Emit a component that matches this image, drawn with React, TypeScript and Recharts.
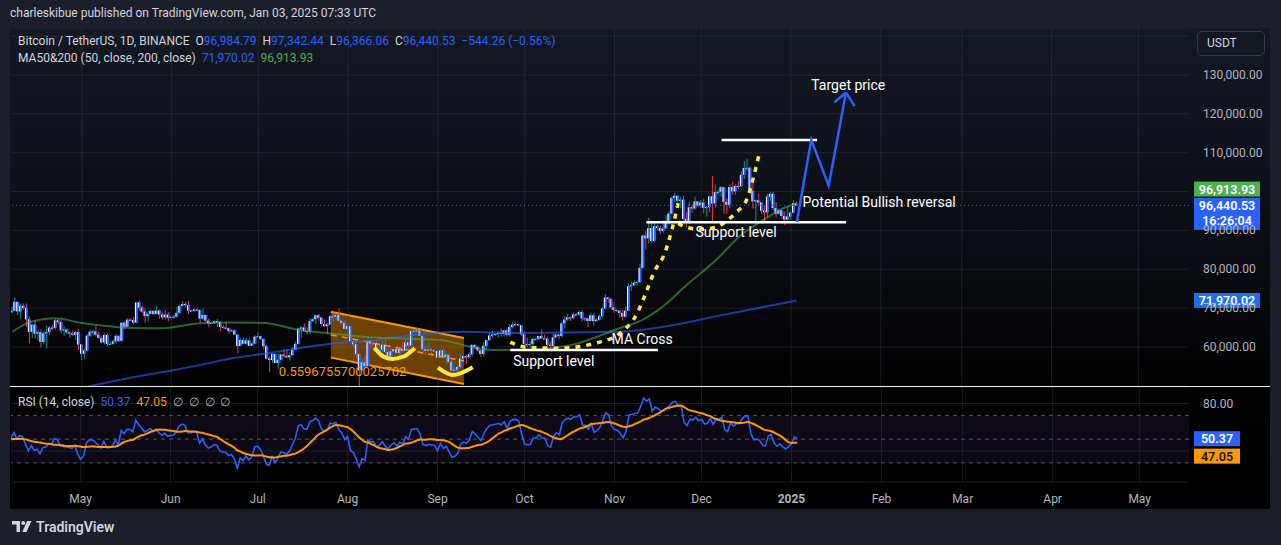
import React from 'react';
import {
  ComposedChart, Bar, Line, Area, XAxis, YAxis, CartesianGrid,
  ReferenceLine, ReferenceArea, ReferenceDot,
} from 'recharts';

const FONT = 'Roboto, "Noto Sans", sans-serif';
const GRID = 'rgba(54,58,69,0.45)';
const UP = '#2962ff';

// closes before the visible window (10 Mar - 6 Apr 2024), only used to warm up the RSI
const warmupCloses = [
  69.0, 72.1, 71.5, 73.1, 71.4, 69.5, 65.3, 68.4, 67.6, 61.9, 67.9, 65.5, 63.8, 64.0,
  67.2, 69.9, 70.0, 69.5, 70.8, 69.9, 69.6, 71.3, 69.7, 65.5, 66.0, 68.5, 67.8, 68.9,
];

// BTCUSDT daily, 7 Apr 2024 - 3 Jan 2025, thousands of USDT
const closes = [
  // Apr
  69.36, 71.62, 69.14, 70.59, 70.06, 67.12, 63.92, 65.74, 63.43, 63.81, 61.28, 63.51, 63.84, 64.99,
  64.93, 66.84, 66.41, 64.28, 64.5, 63.77, 63.46, 63.12, 63.84, 60.64,
  // May
  58.25, 59.12, 62.89, 63.89, 64.03, 63.16, 62.33, 61.19, 63.07, 60.79, 60.82, 61.45, 62.88, 61.55,
  66.25, 65.23, 67.04, 66.94, 66.28, 71.45, 70.14, 69.12, 67.93, 68.53, 69.29, 68.5, 69.39, 68.37,
  67.63, 68.35, 67.53,
  // Jun
  67.76, 67.82, 68.8, 70.57, 71.08, 70.79, 69.36, 69.31, 69.65, 69.51, 67.32, 68.24, 66.76, 66.01,
  66.19, 66.64, 66.49, 65.17, 64.96, 64.83, 64.1, 64.25, 63.18, 60.28, 61.8, 60.86, 61.67, 60.32,
  60.89, 62.68,
  // Jul
  62.77, 62.02, 60.2, 57.04, 56.64, 58.23, 55.86, 56.71, 58.05, 57.72, 57.34, 57.9, 59.23, 60.79,
  64.72, 65.04, 64.09, 63.99, 66.68, 67.15, 68.16, 67.57, 65.93, 65.37, 65.77, 67.9, 67.81, 68.25,
  66.78, 66.19, 64.62,
  // Aug
  65.35, 61.5, 60.7, 58.16, 54.02, 56.04, 55.03, 61.71, 60.88, 60.94, 58.71, 59.35, 60.6, 58.74,
  57.56, 58.87, 59.49, 58.44, 59.49, 59.01, 61.16, 60.38, 64.09, 64.16, 64.22, 62.83, 59.42, 59.03,
  59.38, 59.12, 58.97,
  // Sep
  57.3, 59.13, 57.49, 57.97, 56.16, 53.96, 54.16, 54.87, 57.05, 57.64, 57.34, 58.13, 60.57, 60.0,
  59.13, 58.21, 60.31, 61.76, 62.95, 63.2, 63.35, 63.58, 63.34, 64.26, 63.14, 65.18, 65.77, 65.86,
  65.6, 63.3,
  // Oct
  60.8, 60.63, 60.75, 62.08, 62.09, 62.82, 62.22, 62.13, 60.58, 60.27, 62.45, 63.2, 62.85, 66.08,
  67.06, 67.62, 67.42, 68.38, 68.36, 69.0, 67.37, 67.37, 66.68, 68.16, 66.64, 67.01, 67.93, 69.91,
  72.72, 72.34, 70.22,
  // Nov
  69.49, 69.37, 68.73, 67.8, 69.36, 75.64, 75.9, 76.55, 76.7, 80.37, 88.7, 87.96, 90.58, 87.25,
  91.07, 90.6, 89.84, 90.49, 92.34, 94.34, 98.38, 98.91, 97.67, 97.9, 93.01, 91.97, 95.95, 95.65,
  97.46, 96.41,
  // Dec
  97.19, 95.84, 96.0, 98.77, 96.96, 99.87, 99.92, 101.13, 97.36, 96.59, 101.17, 100.04, 101.42, 101.37,
  104.3, 106.06, 106.13, 100.2, 97.46, 97.76, 97.22, 95.1, 94.69, 98.68, 99.43, 95.79, 94.27, 95.16,
  93.71, 92.78, 93.58,
  // Jan
  94.59, 96.98, 96.44,
];

const highs = [
  70.3, 72.7, 71.7, 71.2, 71.2, 71.2, 67.9, 65.8, 66.9, 64.4, 64.5, 64.1, 65.4, 65.4,
  65.7, 67.2, 67.2, 67.1, 65.3, 64.8, 63.9, 64.3, 64.2, 64.7,
  60.8, 59.6, 63.3, 64.5, 64.6, 65.5, 64.0, 62.9, 63.4, 63.5, 61.4, 61.8, 63.4, 63.0,
  66.4, 66.7, 67.4, 67.4, 67.7, 71.5, 71.9, 70.6, 70.0, 69.2, 69.6, 69.5, 70.6, 69.6,
  68.9, 69.5, 69.0,
  68.0, 68.4, 70.3, 71.0, 71.8, 71.6, 71.9, 69.6, 69.9, 70.1, 69.6, 69.9, 68.4, 67.3,
  66.4, 66.9, 67.2, 66.5, 65.7, 66.5, 65.0, 64.5, 64.5, 63.4, 62.3, 62.4, 62.3, 62.2,
  61.2, 63.0,
  63.8, 62.9, 62.2, 60.5, 57.5, 58.5, 58.3, 58.2, 58.3, 59.4, 59.5, 58.5, 59.9, 61.4,
  64.9, 65.4, 66.1, 65.1, 67.4, 67.6, 68.4, 68.5, 67.8, 67.1, 66.1, 68.2, 69.4, 68.3,
  70.0, 66.9, 66.8,
  65.6, 65.0, 62.2, 61.1, 58.3, 57.0, 57.7, 62.7, 61.8, 61.5, 61.8, 60.7, 61.6, 61.8,
  59.8, 59.8, 59.6, 60.3, 59.6, 61.4, 61.8, 61.4, 64.9, 64.5, 65.0, 64.5, 63.2, 60.2,
  61.2, 59.8, 59.4,
  59.1, 59.4, 59.8, 58.5, 58.3, 57.0, 54.8, 55.3, 58.1, 58.0, 57.9, 58.6, 60.6, 60.6,
  60.4, 59.2, 61.3, 61.8, 63.8, 64.1, 63.6, 64.0, 64.8, 64.5, 64.8, 65.8, 66.5, 66.3,
  66.0, 65.6,
  64.1, 62.4, 61.5, 62.5, 62.4, 62.9, 64.5, 63.2, 62.5, 61.3, 63.4, 63.4, 63.3, 66.5,
  67.9, 68.4, 67.9, 68.9, 68.7, 69.4, 69.5, 67.8, 67.4, 68.8, 68.7, 67.4, 68.3, 70.2,
  73.6, 72.9, 72.7,
  71.6, 69.9, 69.4, 69.5, 70.5, 76.4, 76.9, 77.2, 76.9, 81.5, 89.0, 89.9, 93.3, 91.8,
  91.8, 91.5, 91.2, 92.6, 94.0, 94.9, 98.9, 99.6, 99.0, 98.7, 98.9, 94.7, 97.3, 96.6,
  98.7, 97.5,
  97.8, 98.2, 96.3, 99.0, 104.0, 101.9, 100.5, 101.4, 101.2, 98.3, 101.9, 102.5, 101.9, 102.7,
  105.2, 107.8, 108.4, 106.5, 102.8, 98.0, 99.5, 97.3, 96.4, 99.4, 99.9, 99.9, 97.3, 95.5,
  95.2, 94.9, 96.1,
  94.9, 97.8, 97.34,
];

const lows = [
  68.7, 69.2, 68.2, 67.5, 69.6, 65.1, 60.9, 62.2, 62.3, 61.7, 59.8, 60.8, 59.6, 63.1,
  64.3, 64.5, 65.8, 63.6, 62.8, 63.3, 62.4, 62.8, 61.8, 59.2,
  56.6, 56.9, 58.8, 62.6, 62.9, 62.7, 62.1, 60.9, 60.7, 60.2, 60.5, 60.6, 60.8, 61.2,
  61.4, 64.6, 65.1, 66.6, 65.9, 66.1, 69.2, 68.8, 66.3, 66.6, 68.5, 68.2, 68.3, 67.2,
  67.1, 67.1, 66.6,
  67.4, 67.3, 67.6, 68.6, 70.4, 70.2, 68.5, 69.2, 69.1, 69.2, 66.1, 66.9, 66.3, 65.1,
  65.9, 66.0, 65.1, 64.1, 64.7, 64.5, 63.4, 63.9, 63.2, 58.4, 60.3, 60.7, 60.6, 60.2,
  60.4, 60.7,
  62.5, 61.8, 59.4, 56.8, 53.5, 56.0, 55.8, 54.3, 56.3, 57.2, 57.1, 56.5, 57.7, 59.2,
  60.6, 62.4, 63.9, 63.2, 63.3, 66.4, 65.8, 66.6, 65.4, 65.1, 63.4, 65.7, 66.6, 67.0,
  66.5, 65.3, 64.5,
  62.3, 61.2, 59.8, 57.2, 49.0, 53.9, 54.6, 54.7, 59.6, 60.3, 58.4, 57.6, 58.5, 58.4,
  56.1, 57.2, 58.8, 58.4, 57.8, 58.6, 58.9, 59.8, 60.3, 63.6, 63.8, 62.8, 58.1, 57.9,
  58.8, 57.8, 58.8,
  57.2, 57.1, 57.4, 55.6, 55.8, 52.6, 53.7, 53.6, 54.6, 56.4, 55.5, 57.3, 57.6, 59.5,
  58.7, 57.5, 57.6, 59.2, 61.6, 62.4, 62.8, 62.4, 62.7, 62.7, 62.7, 62.7, 64.8, 65.4,
  65.4, 62.9,
  60.2, 59.9, 59.8, 60.5, 61.7, 61.8, 62.1, 61.9, 60.3, 58.9, 60.1, 62.4, 62.0, 62.4,
  64.8, 66.7, 66.7, 67.1, 68.0, 68.1, 66.6, 66.6, 65.2, 66.6, 65.5, 66.5, 66.8, 67.6,
  69.7, 71.4, 69.7,
  68.8, 69.0, 67.5, 66.8, 67.5, 69.3, 74.4, 75.6, 75.8, 76.5, 80.2, 85.1, 86.6, 86.7,
  87.0, 90.1, 89.0, 89.4, 90.7, 91.5, 94.1, 97.2, 97.2, 95.7, 92.6, 90.8, 91.8, 94.6,
  95.4, 96.0,
  95.7, 94.4, 93.6, 94.7, 92.0, 95.9, 99.0, 98.7, 94.2, 94.3, 95.7, 99.3, 99.2, 100.6,
  101.2, 103.3, 105.3, 100.0, 95.6, 92.2, 96.4, 94.2, 92.4, 93.4, 97.6, 95.2, 93.3, 94.1,
  93.0, 91.4, 92.5,
  92.7, 94.4, 96.37,
];

// moving averages
const ma50Points: [string, number][] = [
  ['2024-04-07', 63.9], ['2024-04-13', 66.4], ['2024-04-22', 67.4], ['2024-04-30', 66.3],
  ['2024-05-07', 65.6], ['2024-05-18', 64.9], ['2024-05-28', 64.8], ['2024-06-11', 66.1],
  ['2024-06-21', 66.3], ['2024-07-03', 66.2], ['2024-07-15', 64.4], ['2024-07-26', 63.5],
  ['2024-08-07', 62.6], ['2024-08-19', 62.2], ['2024-09-02', 61.8], ['2024-09-12', 60.1],
  ['2024-09-21', 59.2], ['2024-09-29', 59.2], ['2024-10-17', 60.5], ['2024-11-03', 64.9],
  ['2024-11-10', 66.7], ['2024-11-17', 70.0], ['2024-11-26', 76.0], ['2024-12-06', 82.3],
  ['2024-12-14', 88.3], ['2024-12-24', 93.4], ['2024-12-29', 95.6], ['2025-01-03', 96.91],
];
const ma200Points: [string, number][] = [
  ['2024-04-07', 45.6], ['2024-04-21', 47.9], ['2024-05-03', 49.8], ['2024-05-19', 52.3],
  ['2024-05-30', 53.7], ['2024-06-11', 55.4], ['2024-06-22', 57.1], ['2024-07-04', 58.4],
  ['2024-07-15', 59.7], ['2024-07-27', 60.9], ['2024-08-09', 61.6], ['2024-08-26', 63.3],
  ['2024-09-10', 63.9], ['2024-09-29', 63.6], ['2024-11-03', 63.9], ['2024-11-21', 65.6],
  ['2024-12-08', 68.2], ['2025-01-03', 71.97],
];

// drawings
const channelPoints: [string, number, number][] = [['2024-07-26', 57.26, 69.05], ['2024-09-10', 50.5, 62.3]];
const channelMid: [string, number][] = [['2024-07-26', 63.15], ['2024-09-10', 56.4]];
const bigCurve: [string, number][] = [
  ['2024-09-26', 61.2], ['2024-10-02', 59.9], ['2024-10-13', 59.7], ['2024-10-26', 61.1],
  ['2024-11-03', 63.6], ['2024-11-09', 68.9], ['2024-11-11', 72.3], ['2024-11-15', 79.7],
  ['2024-11-18', 83.5], ['2024-11-21', 90.6], ['2024-11-23', 97.0],
];
const smallCurve: [string, number][] = [
  ['2024-11-23', 91.8], ['2024-11-26', 90.8], ['2024-12-01', 90.3], ['2024-12-06', 90.8],
  ['2024-12-10', 92.6], ['2024-12-13', 94.6], ['2024-12-17', 98.5], ['2024-12-19', 103.6],
  ['2024-12-21', 109.7],
];
const smileA: [string, number][] = [
  ['2024-08-10', 59.8], ['2024-08-13', 57.6], ['2024-08-16', 56.9], ['2024-08-20', 57.5], ['2024-08-24', 59.7],
];
const smileB: [string, number][] = [
  ['2024-09-01', 54.7], ['2024-09-04', 53.3], ['2024-09-06', 52.8], ['2024-09-09', 53.3], ['2024-09-13', 54.8],
];
const projection: [string, number][] = [
  ['2025-01-03', 92.17], ['2025-01-08', 113.3], ['2025-01-14', 101.5], ['2025-01-20', 125.5],
];
const arrowWings: [string, number][] = [['2025-01-16', 122.97], ['2025-01-23', 122.0]];
const whiteLevels: [string, string, number][] = [
  ['2024-09-26', '2024-11-16', 59.23],
  ['2024-11-12', '2025-01-20', 92.09],
  ['2024-12-08', '2025-01-10', 113.3],
];
const notes: [string, number, string, string][] = [
  ['2025-01-08', 127.4, 'Target price', '#ffffff'],
  ['2025-01-05', 97.2, 'Potential Bullish reversal', '#ffffff'],
  ['2024-11-29', 89.67, 'Support level', '#ffffff'],
  ['2024-10-31', 61.98, 'MA Cross', '#ffffff'],
  ['2024-09-27', 56.47, 'Support level', '#ffffff'],
  ['2024-07-08', 53.64, '0.5596755700025702', '#ff9800'],
];

const priceTicks = [60, 70, 80, 90, 100, 110, 120, 130, 140];
const hiddenPriceLabels = [100, 140]; // covered by the MA tag and the USDT box
const monthTicks = [
  '2024-05-01', '2024-06-01', '2024-07-01', '2024-08-01', '2024-09-01', '2024-10-01', '2024-11-01',
  '2024-12-01', '2025-01-01', '2025-02-01', '2025-03-01', '2025-04-01', '2025-05-01',
];
const monthLabels = ['May', 'Jun', 'Jul', 'Aug', 'Sep', 'Oct', 'Nov', 'Dec', '2025', 'Feb', 'Mar', 'Apr', 'May'];

const FIRST_DAY = Date.UTC(2024, 3, 7);
const DAYS = 407;
const dayKey = (i: number) => new Date(FIRST_DAY + i * 86400000).toISOString().slice(0, 10);

// RSI(14) and its 14-period SMA
const allCloses = [...warmupCloses, ...closes];
const rsiAll: (number | null)[] = allCloses.map(() => null);
let avgGain = 0;
let avgLoss = 0;
for (let i = 1; i < allCloses.length; i++) {
  const ch = allCloses[i] - allCloses[i - 1];
  const g = Math.max(ch, 0);
  const l = Math.max(-ch, 0);
  if (i <= 14) {
    avgGain += g / 14;
    avgLoss += l / 14;
  } else {
    avgGain = (avgGain * 13 + g) / 14;
    avgLoss = (avgLoss * 13 + l) / 14;
  }
  if (i >= 14) rsiAll[i] = avgLoss === 0 ? 100 : 100 - 100 / (1 + avgGain / avgLoss);
}
const rsiMaAll = rsiAll.map((_, i) => {
  if (i < 27) return null;
  let s = 0;
  for (let k = i - 13; k <= i; k++) s += rsiAll[k] as number;
  return s / 14;
});

const m50 = new Map(ma50Points);
const m200 = new Map(ma200Points);
const mChan = new Map(channelPoints.map(([d, lo, hi]) => [d, [lo, hi]]));
const mBig = new Map(bigCurve);
const mSmall = new Map(smallCurve);
const mSmA = new Map(smileA);
const mSmB = new Map(smileB);
const mProj = new Map(projection);

const rows = Array.from({ length: DAYS }, (_, i) => {
  const d = dayKey(i);
  const row: any = {
    d,
    ma50: m50.get(d), ma200: m200.get(d), chan: mChan.get(d),
    big: mBig.get(d), small: mSmall.get(d), smA: mSmA.get(d), smB: mSmB.get(d), proj: mProj.get(d),
  };
  if (i < closes.length) {
    const o = i === 0 ? warmupCloses[warmupCloses.length - 1] : closes[i - 1];
    const c = closes[i];
    const h = Math.max(highs[i], o, c);
    const l = Math.min(lows[i], o, c);
    Object.assign(row, { o, c, h, l, range: [l, h], rsi: rsiAll[i + 28], rsiMa: rsiMaAll[i + 28] });
  }
  return row;
});

const fmtPrice = (v: number) =>
  (v * 1000).toLocaleString('en-US', { minimumFractionDigits: 2, maximumFractionDigits: 2 });
const fmtMonth = (d: string) => monthLabels[monthTicks.indexOf(d)] ?? '';

function Candle(props: any) {
  const { x, y, width, height, payload } = props;
  if (!payload || payload.o == null) return null;
  const { o, c, h, l } = payload;
  const top = Math.min(y, y + height);
  const hh = Math.abs(height);
  const k = hh / (h - l || 1);
  const cx = x + width / 2;
  const yo = top + (h - o) * k;
  const yc = top + (h - c) * k;
  const bTop = Math.min(yo, yc);
  const bH = Math.max(1, Math.abs(yo - yc));
  return (
    <g>
      <line x1={cx} x2={cx} y1={top} y2={top + hh} stroke={c >= o ? '#089981' : '#f23645'} strokeWidth={1} />
      <rect x={cx - 1.5} y={bTop} width={3} height={bH} fill={UP} />
      <rect x={cx - 1.5} y={bTop} width={1} height={bH} fill="#ffffff" />
    </g>
  );
}

const tag = (text: string, bg: string, fg: string, w: number, dy = 0, sub?: string) => (p: any) => {
  const vb = p.viewBox;
  const x = vb.x + vb.width + 5;
  const y = vb.y + dy;
  return (
    <g>
      <rect x={x} y={y - 7.5} width={w} height={sub ? 32 : 15} fill={bg} />
      <text x={x + w / 2} y={y} fill={fg} fontSize={12.5} fontWeight={600} fontFamily={FONT}
        textAnchor="middle" dominantBaseline="central">{text}</text>
      {sub && (
        <text x={x + w / 2} y={y + 15.5} fill={fg} fontSize={12.5} fontWeight={600} fontFamily={FONT}
          textAnchor="middle" dominantBaseline="central">{sub}</text>
      )}
    </g>
  );
};

const noteShape = (text: string, color: string) => (p: any) => (
  <text x={p.cx} y={p.cy} fill={color} fontSize={text.startsWith('0.') ? 13 : 14} fontFamily={FONT}
    dominantBaseline="central">{text}</text>
);

const axisTick = (fmt: (v: number) => string, hidden: number[]) => (p: any) => {
  if (hidden.includes(p.payload.value)) return <g />;
  return (
    <text x={p.x} y={p.y} fill="#b2b5be" fontSize={12} fontFamily={FONT} textAnchor="start" dominantBaseline="central">
      {fmt(p.payload.value)}
    </text>
  );
};

const monthTick = (p: any) => (
  <text x={p.x} y={p.y + 13} fill="#b2b5be" fontSize={12} fontFamily={FONT} textAnchor="middle"
    fontWeight={p.payload.value === '2025-01-01' ? 700 : 400}>
    {fmtMonth(p.payload.value)}
  </text>
);

export default function App() {
  const lineBase = { dot: false, activeDot: false, isAnimationActive: false, connectNulls: true } as const;
  return (
    <div style={{ position: 'absolute', left: 0, top: 0, width: 1281, height: 545, background: '#1c1f29', fontFamily: FONT, overflow: 'hidden' }}>
      <div style={{ position: 'absolute', left: 10, top: 6, fontSize: 12, color: '#d1d4dc' }}>
        charleskibue published on TradingView.com, Jan 03, 2025 07:33 UTC
      </div>
      <div style={{
        position: 'absolute', left: 10, top: 28, width: 1260, height: 481,
        background: 'linear-gradient(180deg, #141822 0%, #0b0d13 45%, #020203 72%, #000 100%)',
      }} />

      <div style={{ position: 'absolute', left: 11, top: 28 }}>
        <ComposedChart width={1259} height={358} data={rows} margin={{ top: 0, right: 0, bottom: 0, left: 0 }}>
          <XAxis dataKey="d" hide />
          <YAxis orientation="right" width={81} domain={[49.96, 142.1]} ticks={priceTicks} allowDataOverflow
            axisLine={false} tickLine={false} tickMargin={8} tick={axisTick(fmtPrice, hiddenPriceLabels)} />
          <CartesianGrid vertical={false} stroke={GRID} />
          {monthTicks.map((t) => <ReferenceLine key={t} x={t} stroke={GRID} />)}
          <Area dataKey="chan" type="linear" {...lineBase} fill="#ff9800" fillOpacity={0.42} stroke="#ff9800" strokeWidth={2} />
          <ReferenceLine segment={[{ x: channelMid[0][0], y: channelMid[0][1] }, { x: channelMid[1][0], y: channelMid[1][1] }]}
            stroke="#ff9800" strokeDasharray="6 5" strokeWidth={1.5} />
          <Line dataKey="ma200" type="monotone" {...lineBase} stroke="#2962ff" strokeOpacity={0.6} strokeWidth={2} />
          <Line dataKey="ma50" type="monotone" {...lineBase} stroke="#4caf50" strokeOpacity={0.55} strokeWidth={2} />
          <Bar dataKey="range" barSize={2} shape={Candle} isAnimationActive={false} />
          <Line dataKey="big" type="monotone" {...lineBase} stroke="#ffeb3b" strokeWidth={3.5} strokeDasharray="5 6" />
          <Line dataKey="small" type="monotone" {...lineBase} stroke="#ffeb3b" strokeWidth={3.5} strokeDasharray="5 6" />
          <Line dataKey="smA" type="monotone" {...lineBase} stroke="#ffeb3b" strokeWidth={4} />
          <Line dataKey="smB" type="monotone" {...lineBase} stroke="#ffeb3b" strokeWidth={4} />
          {whiteLevels.map(([a, b, v], i) => (
            <ReferenceLine key={i} segment={[{ x: a, y: v }, { x: b, y: v }]} stroke="#ffffff" strokeWidth={2.5} />
          ))}
          <Line dataKey="proj" type="linear" {...lineBase} stroke="#2962ff" strokeWidth={2.5} />
          {arrowWings.map(([d, v]) => (
            <ReferenceLine key={d} segment={[{ x: projection[3][0], y: projection[3][1] }, { x: d, y: v }]} stroke="#2962ff" strokeWidth={2.5} />
          ))}
          {notes.map(([d, v, t, c], i) => (
            <ReferenceDot key={i} x={d} y={v} r={0} shape={noteShape(t, c)} />
          ))}
          <ReferenceLine y={96.44053} stroke="#2962ff" strokeDasharray="1 3"
            label={{ content: tag('96,440.53', '#2962ff', '#ffffff', 66, 0, '16:26:04') }} />
          <ReferenceLine y={96.91393} stroke="none" label={{ content: tag('96,913.93', '#4caf50', '#ffffff', 66, -14.5) }} />
          <ReferenceLine y={71.97002} stroke="none" label={{ content: tag('71,970.02', '#1e6fe6', '#ffffff', 66) }} />
        </ComposedChart>
      </div>

      <div style={{ position: 'absolute', left: 10, top: 385.5, width: 1260, height: 1.5, background: '#e6e8ee' }} />

      <div style={{ position: 'absolute', left: 11, top: 387 }}>
        <ComposedChart width={1259} height={121} data={rows} margin={{ top: 0, right: 0, bottom: 0, left: 0 }}>
          <XAxis dataKey="d" ticks={monthTicks} interval={0} height={26}
            axisLine={false} tickLine={false} tick={monthTick} />
          <YAxis orientation="right" width={81} domain={[13.9, 93.9]} ticks={[40, 80]} allowDataOverflow
            axisLine={false} tickLine={false} tickMargin={8} tick={axisTick((v) => v.toFixed(2), [40])} />
          <CartesianGrid vertical={false} stroke={GRID} />
          <ReferenceArea y1={30} y2={70} fill="#7e57c2" fillOpacity={0.1} stroke="none" />
          {[70, 50, 30].map((v) => (
            <ReferenceLine key={v} y={v} stroke="#787b86" strokeOpacity={0.7} strokeDasharray="4 4" />
          ))}
          {monthTicks.map((t) => <ReferenceLine key={t} x={t} stroke={GRID} />)}
          <Line dataKey="rsi" type="linear" {...lineBase} stroke="#2962ff" strokeWidth={1.6} />
          <Line dataKey="rsiMa" type="monotone" {...lineBase} stroke="#ff9800" strokeWidth={2} />
          <ReferenceLine y={50.37} stroke="none" label={{ content: tag('50.37', '#2962ff', '#ffffff', 46) }} />
          <ReferenceLine y={47.05} stroke="none" label={{ content: tag('47.05', '#ff9800', '#131722', 46, 13.5) }} />
        </ComposedChart>
      </div>

      <div style={{ position: 'absolute', left: 18, top: 34, fontSize: 12, color: '#d1d4dc', whiteSpace: 'nowrap' }}>
        Bitcoin / TetherUS, 1D, BINANCE&nbsp; O<span style={{ color: UP }}>96,984.79</span>&nbsp; H<span style={{ color: UP }}>97,342.44</span>
        &nbsp; L<span style={{ color: UP }}>96,366.06</span>&nbsp; C<span style={{ color: UP }}>96,440.53</span>
        &nbsp; <span style={{ color: UP }}>−544.26 (−0.56%)</span>
      </div>
      <div style={{ position: 'absolute', left: 18, top: 51, fontSize: 12, color: '#d1d4dc', whiteSpace: 'nowrap' }}>
        MA50&amp;200 (50, close, 200, close)&nbsp; <span style={{ color: UP }}>71,970.02</span>&nbsp; <span style={{ color: '#4caf50' }}>96,913.93</span>
      </div>
      <div style={{ position: 'absolute', left: 18, top: 395, fontSize: 12, color: '#d1d4dc', whiteSpace: 'nowrap' }}>
        RSI (14, close)&nbsp; <span style={{ color: UP }}>50.37</span>&nbsp; <span style={{ color: '#ff9800' }}>47.05</span>
        &nbsp; <span style={{ color: '#b2b5be' }}>∅&nbsp; ∅&nbsp; ∅&nbsp; ∅</span>
      </div>
      <div style={{
        position: 'absolute', left: 1197, top: 31, width: 68, height: 25, boxSizing: 'border-box',
        border: '1px solid #363a45', borderRadius: 5, background: '#141822', color: '#d1d4dc',
        fontSize: 12, lineHeight: '23px', paddingLeft: 9,
      }}>USDT</div>

      <div style={{ position: 'absolute', left: 12, top: 519, display: 'flex', alignItems: 'center', gap: 4 }}>
        <svg width={20} height={12} viewBox="0 0 20 12">
          <path d="M0 0h8v11H4.5V3.5H0z" fill="#d1d4dc" />
          <circle cx={11.2} cy={2} r={2} fill="#d1d4dc" />
          <path d="M15 0h4.5l-5 11h-4.2z" fill="#d1d4dc" />
        </svg>
        <span style={{ fontSize: 14, fontWeight: 600, color: '#d1d4dc' }}>TradingView</span>
      </div>
    </div>
  );
}
